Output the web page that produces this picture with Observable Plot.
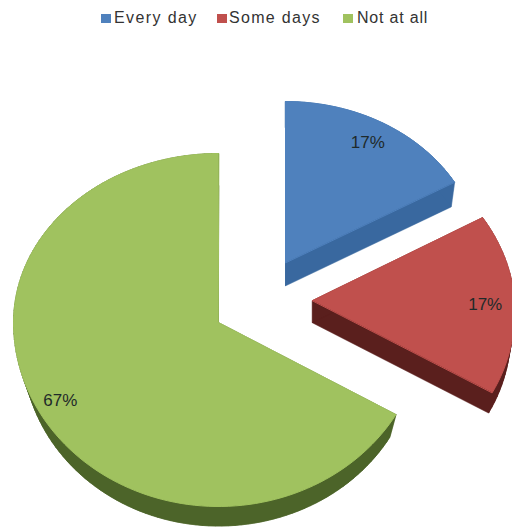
<!DOCTYPE html>
<html>
<head>
<meta charset="utf-8">
<script src="https://cdn.jsdelivr.net/npm/d3@7"></script>
<script src="https://cdn.jsdelivr.net/npm/@observablehq/plot@0.6"></script>
<style>
  html, body { margin: 0; padding: 0; background: #fff; }
  #legend { position: relative; height: 34px; font: 16px "Liberation Sans", Arial, sans-serif; color: #333; }
  #legend span { position: absolute; top: 9px; white-space: nowrap; line-height: 18px; }
  #legend i { position: absolute; top: 14px; width: 10px; height: 9px; }
</style>
</head>
<body>
<div id="legend"></div>
<div id="chart"></div>
<script>
// Data
const categories = ["Every day", "Some days", "Not at all"];
const shares = [16.67, 16.67, 66.66];
const labels = ["17%", "17%", "67%"];

// Styles
const topColors = ["#4f81bd", "#c0504d", "#a0c25f"];
const sideColors = ["#39689f", "#5a1f1d", "#4c6429"];

// Layout of the exploded, tilted pie (chart pixels)
const apexX = [285, 312, 218];
const apexY = [262, 300, 322];
const radiusX = [195, 202, 205];
const radiusUp = [161, 166, 169];
const radiusDown = [184, 184, 184];
const skewX = [0, 0.056, 0];
const depth = [23, 22, 26];
const baseScale = [0.98, 0.98, 0.965];
const baseInsetLeft = [0, 0, 2];
const labelRadius = 0.86;
const labelShiftX = [-1.5, -1, -5.5];
const labelShiftY = [0, 3.5, -1.5];

// Legend positions
const legendSwatchX = [101, 217, 343];
const legendTextX = [114, 229, 357];
const legendSpacing = [1.4, 1.3, 0.8];

const total = d3.sum(shares);
const cumulative = d3.cumsum(shares);

function project(i, angle, radial, scale, drop, inset = 0) {
  const s = Math.sin(angle), c = Math.cos(angle);
  return {
    x: apexX[i] + inset * Math.max(0, -s) + radial * scale * radiusX[i] * s * (1 - skewX[i] * c),
    y: apexY[i] + drop - radial * scale * (c > 0 ? radiusUp[i] : radiusDown[i]) * c
  };
}

const topPoints = [], sideQuads = [], labelPoints = [];
categories.forEach((category, i) => {
  const a0 = ((cumulative[i] - shares[i]) / total) * 2 * Math.PI;
  const a1 = (cumulative[i] / total) * 2 * Math.PI;
  const steps = Math.max(8, Math.ceil((a1 - a0) * 30));
  const angles = d3.range(steps + 1).map(k => a0 + (a1 - a0) * k / steps);
  const upper = [project(i, 0, 0, 1, 0), ...angles.map(a => project(i, a, 1, 1, 0))];
  const lower = [project(i, 0, 0, 1, depth[i]), ...angles.map(a => project(i, a, 1, baseScale[i], depth[i], baseInsetLeft[i]))];
  upper.forEach(p => topPoints.push({category, ...p}));
  upper.forEach((p, k) => {
    const n = (k + 1) % upper.length;
    const id = category + k;
    [p, upper[n], lower[n], lower[k]].forEach(q => sideQuads.push({id, side: sideColors[i], ...q}));
  });
  lower.forEach(p => sideQuads.push({id: category + "base", side: sideColors[i], ...p}));
  const anchor = project(i, (a0 + a1) / 2, labelRadius, 1, 0);
  labelPoints.push({label: labels[i], x: anchor.x + labelShiftX[i], y: anchor.y + labelShiftY[i]});
});

// Legend above the SVG
const legend = d3.select("#legend");
categories.forEach((category, i) => {
  legend.append("i").style("left", legendSwatchX[i] + "px").style("background", topColors[i]);
  legend.append("span").style("left", legendTextX[i] + "px")
    .style("letter-spacing", legendSpacing[i] + "px").text(category);
});

document.getElementById("chart").append(Plot.plot({
  width: 512,
  height: 495,
  margin: 0,
  x: {domain: [0, 512], range: [0, 512], axis: null},
  y: {domain: [34, 529], range: [0, 495], axis: null},
  color: {domain: categories, range: topColors},
  style: {background: "#fff", overflow: "hidden"},
  marks: [
    Plot.line(sideQuads, {
      x: "x", y: "y", z: "id",
      fill: {value: "side", scale: null},
      stroke: {value: "side", scale: null},
      strokeWidth: 0.5,
      curve: "linear-closed"
    }),
    Plot.line(topPoints, {
      x: "x", y: "y", z: "category",
      fill: "category",
      stroke: "category",
      strokeWidth: 1,
      curve: "linear-closed"
    }),
    Plot.text(labelPoints, {
      x: "x", y: "y", text: "label",
      fontSize: 17, fontFamily: "Liberation Sans, Arial, sans-serif",
      fill: "#1f2a2a"
    })
  ]
}));
</script>
</body>
</html>
